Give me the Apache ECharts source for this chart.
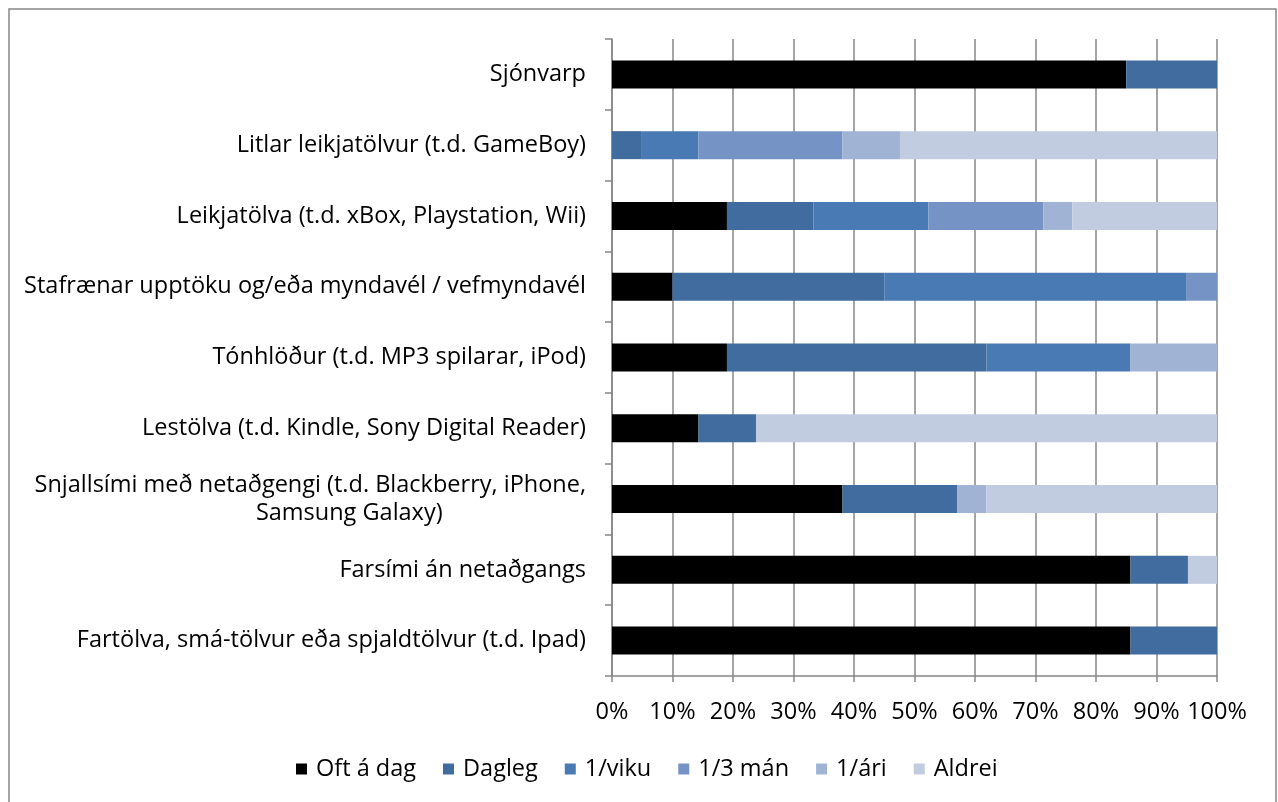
<!DOCTYPE html>
<html>
<head>
<meta charset="utf-8">
<script src="https://cdn.jsdelivr.net/npm/echarts@6/dist/echarts.min.js"></script>
<style>
html,body{margin:0;padding:0;background:#fff;}
#c{width:1278px;height:802px;}
</style>
</head>
<body>
<div id="c"></div>
<script>
const categories = [
  'Sjónvarp',
  'Litlar leikjatölvur (t.d. GameBoy)',
  'Leikjatölva (t.d. xBox, Playstation, Wii)',
  'Stafrænar upptöku og/eða myndavél / vefmyndavél',
  'Tónhlöður (t.d. MP3 spilarar, iPod)',
  'Lestölva (t.d. Kindle, Sony Digital Reader)',
  'Snjallsími með netaðgengi (t.d. Blackberry, iPhone,\nSamsung Galaxy)',
  'Farsími án netaðgangs',
  'Fartölva, smá-tölvur eða spjaldtölvur (t.d. Ipad)'
];
const seriesNames = ['Oft á dag', 'Dagleg', '1/viku', '1/3 mán', '1/ári', 'Aldrei'];
const oftADag = [85, 0, 19.0, 10, 19.0, 14.3, 38.1, 85.7, 85.7];
const dagleg  = [15, 4.8, 14.3, 35, 42.9, 9.5, 19.0, 9.5, 14.3];
const viku    = [0, 9.5, 19.0, 50, 23.8, 0, 0, 0, 0];
const man3    = [0, 23.8, 19.0, 5, 0, 0, 0, 0, 0];
const ari     = [0, 9.5, 4.8, 0, 14.3, 0, 4.8, 0, 0];
const aldrei  = [0, 52.4, 23.9, 0, 0, 76.2, 38.1, 4.8, 0];
const xTicks = [0, 10, 20, 30, 40, 50, 60, 70, 80, 90, 100];

const colors = ['#000000', '#416C9F', '#4A7AB4', '#7594C5', '#A0B3D4', '#C1CCE1'];
const values = [oftADag, dagleg, viku, man3, ari, aldrei];

const chart = echarts.init(document.getElementById('c'));
const FONT = 'Open Sans';
const FS = 23.5;
chart.setOption({
  animation: false,
  color: colors,
  textStyle: { fontFamily: FONT },
  graphic: [{
    type: 'rect',
    shape: { x: 9, y: 9, width: 1267, height: 810 },
    style: { fill: 'none', stroke: '#878787', lineWidth: 1.5 },
    silent: true
  }],
  grid: { left: 612, right: 61, top: 39, bottom: 126, containLabel: false },
  legend: {
    left: 291,
    top: 752,
    itemWidth: 11,
    itemHeight: 11,
    itemGap: 27,
    icon: 'rect',
    textStyle: { fontFamily: FONT, fontSize: FS, color: '#000', padding: [0, 0, 0, 4] },
    data: seriesNames
  },
  xAxis: {
    type: 'value',
    min: 0,
    max: 100,
    interval: 10,
    axisLine: { show: true, lineStyle: { color: '#878787', width: 1.5 } },
    axisTick: { show: true, length: 6, lineStyle: { color: '#878787', width: 1.5 } },
    splitLine: { show: true, lineStyle: { color: '#878787', width: 1.5 } },
    axisLabel: {
      fontFamily: FONT, fontSize: FS, color: '#000', margin: 24,
      formatter: v => xTicks.includes(v) ? v + '%' : ''
    }
  },
  yAxis: {
    type: 'category',
    inverse: true,
    data: categories,
    axisLine: { show: true, lineStyle: { color: '#878787', width: 1.5 } },
    axisTick: { show: true, length: 7, alignWithLabel: false, lineStyle: { color: '#878787', width: 1.5 } },
    axisLabel: {
      fontFamily: FONT, fontSize: FS, color: '#000', margin: 26,
      lineHeight: 28,
      formatter: function (v) {
        const lines = v.split('\n');
        if (lines.length === 1) return v;
        return '{a|' + lines[0] + '}\n{b|' + lines[1] + '}';
      },
      rich: {
        a: { fontFamily: FONT, fontSize: FS, color: '#000', align: 'center', lineHeight: 28 },
        b: { fontFamily: FONT, fontSize: FS, color: '#000', align: 'center', lineHeight: 28, padding: [0, 0, 0, 78] }
      }
    }
  },
  series: seriesNames.map((name, i) => ({
    name: name,
    type: 'bar',
    stack: 'total',
    barWidth: 28,
    itemStyle: { color: colors[i] },
    data: values[i]
  }))
});
</script>
</body>
</html>
